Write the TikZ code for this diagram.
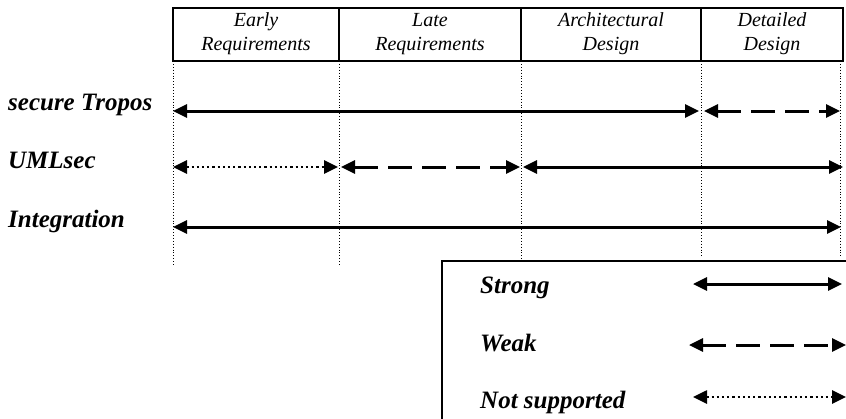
\documentclass[tikz,border=0pt]{standalone}
\usepackage{fontspec}
\setmainfont{Liberation Serif}
\usetikzlibrary{arrows.meta}
\begin{document}
\begin{tikzpicture}[x=1pt,y=-1pt,
  hdr/.style={font=\fontsize{20}{24}\selectfont\itshape, align=center, inner sep=0pt},
  lbl/.style={font=\fontsize{25}{28}\selectfont\bfseries\itshape, anchor=base west, inner sep=0pt},
  guide/.style={line width=0.9pt, dotted},
  tip/.style={{Triangle[length=14pt,width=13pt]}-{Triangle[length=14pt,width=13pt]}},
  strong/.style={tip, line width=3pt},
  weak/.style={tip, line width=3pt, dash pattern=on 24pt off 10pt},
  nosup/.style={tip, line width=2.6pt, dash pattern=on 2.2pt off 3pt}
]
\useasboundingbox (0,0) rectangle (846,418);
% header table
\draw[line width=1.8pt] (173,8) rectangle (843,61);
\foreach \x in {339,521,701} \draw[line width=1.8pt] (\x,8) -- (\x,61);
\node[hdr] (h1) at (256,34) {Early\\Requirements};
\node[hdr] (h2) at (430,34) {Late\\Requirements};
\node[hdr] (h3) at (611,34) {Architectural\\Design};
\node[hdr] (h4) at (772,34) {Detailed\\Design};
% guides
\coordinate (g1t) at (173,61); \coordinate (g1b) at (173,265);
\coordinate (g2t) at (339,61); \coordinate (g2b) at (339,265);
\coordinate (g3t) at (521,61); \coordinate (g3b) at (521,261);
\coordinate (g4t) at (701,61); \coordinate (g4b) at (701,256);
\coordinate (g5t) at (840,61); \coordinate (g5b) at (840,256);
\foreach \i in {1,...,5} \draw[guide] (g\i t) -- (g\i b);
% rows
\node[lbl] (st) at (8,110) {secure Tropos};
\node[lbl] (um) at (8,168) {UMLsec};
\node[lbl] (in) at (8,227) {Integration};
\coordinate (a1) at (173,111); \coordinate (a2) at (699,111);
\coordinate (a3) at (704,111); \coordinate (a4) at (840,111);
\draw[strong] (a1) -- (a2);
\draw[weak] (a3) -- (a4);
\coordinate (b1) at (173,167); \coordinate (b2) at (338,167);
\coordinate (b3) at (341,167); \coordinate (b4) at (520,167);
\coordinate (b5) at (523,167); \coordinate (b6) at (843,167);
\draw[nosup] (b1) -- (b2);
\draw[weak] (b3) -- (b4);
\draw[strong] (b5) -- (b6);
\coordinate (c1) at (173,227); \coordinate (c2) at (841,227);
\draw[strong] (c1) -- (c2);
% legend
\draw[line width=1.8pt] (442,430) -- (442,261) -- (860,261);
\node[lbl] (ls) at (480,293) {Strong};
\node[lbl] (lw) at (480,351) {Weak};
\node[lbl] (ln) at (480,408) {Not supported};
\coordinate (l1) at (693,284); \coordinate (l2) at (842,284);
\coordinate (l3) at (689,345); \coordinate (l4) at (846,345);
\coordinate (l5) at (693,397); \coordinate (l6) at (846,397);
\draw[strong] (l1) -- (l2);
\draw[weak] (l3) -- (l4);
\draw[nosup] (l5) -- (l6);
\end{tikzpicture}
\end{document}
